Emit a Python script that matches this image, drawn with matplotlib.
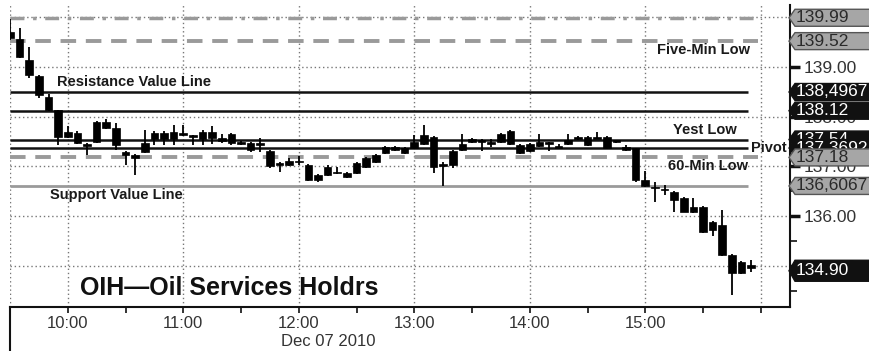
import matplotlib
matplotlib.use('Agg')
import matplotlib.pyplot as plt
import numpy as np
from matplotlib.patches import Polygon
from matplotlib.lines import Line2D

plt.rcParams['font.family'] = ['Liberation Sans', 'DejaVu Sans']

# ---------------- data ----------------
session_start_hour = 9.5      # 09:30
bar_minutes = 5

opens = [139.70, 139.56, 139.14, 138.82, 138.40, 138.13, 137.60, 137.67, 137.45, 137.50,
         137.90, 137.77, 137.29, 137.23, 137.29, 137.55, 137.68, 137.56, 137.66, 137.62,
         137.55, 137.70, 137.58, 137.65, 137.50, 137.47, 137.45, 137.30, 137.05, 137.03,
         137.08, 137.02, 136.72, 136.82, 136.88, 136.86, 136.86, 136.99, 137.09, 137.27,
         137.39, 137.37, 137.36, 137.46, 137.60, 137.00, 137.03, 137.33, 137.50, 137.50,
         137.50, 137.50, 137.72, 137.43, 137.30, 137.41, 137.47, 137.41, 137.46, 137.56,
         137.60, 137.58, 137.60, 137.50, 137.40, 137.36, 136.73, 136.56, 136.53, 136.49,
         136.36, 136.19, 136.19, 135.89, 135.82, 135.21, 135.08, 135.02]
highs = [139.97, 139.79, 139.41, 138.84, 138.45, 138.14, 137.81, 137.72, 137.47, 137.92,
         137.96, 137.87, 137.31, 137.25, 137.74, 137.72, 137.72, 137.84, 137.84, 137.64,
         137.73, 137.82, 137.66, 137.68, 137.52, 137.49, 137.57, 137.32, 137.08, 137.16,
         137.20, 137.05, 136.85, 137.03, 136.99, 136.88, 137.08, 137.18, 137.25, 137.42,
         137.42, 137.40, 137.63, 137.83, 137.62, 137.08, 137.32, 137.66, 137.58, 137.56,
         137.55, 137.68, 137.74, 137.45, 137.48, 137.66, 137.50, 137.45, 137.66, 137.62,
         137.62, 137.70, 137.62, 137.52, 137.43, 137.38, 136.90, 136.69, 136.62, 136.51,
         136.38, 136.36, 136.21, 135.91, 136.12, 135.23, 135.10, 135.12]
lows = [139.55, 139.18, 138.78, 138.38, 138.12, 137.43, 137.58, 137.45, 137.23, 137.48,
        137.76, 137.33, 137.03, 136.83, 137.27, 137.43, 137.43, 137.43, 137.62, 137.43,
        137.43, 137.45, 137.48, 137.43, 137.43, 137.29, 137.29, 136.97, 136.89, 137.00,
        137.02, 136.70, 136.68, 136.80, 136.84, 136.76, 136.84, 136.97, 137.07, 137.25,
        137.31, 137.25, 137.34, 137.44, 136.86, 136.60, 136.96, 137.31, 137.48, 137.31,
        137.40, 137.48, 137.44, 137.24, 137.28, 137.39, 137.30, 137.34, 137.44, 137.54,
        137.41, 137.56, 137.34, 137.48, 137.30, 136.69, 136.58, 136.29, 136.42, 136.09,
        136.08, 136.07, 135.66, 135.60, 135.19, 134.41, 134.83, 134.88]
closes = [139.58, 139.20, 138.84, 138.44, 138.13, 137.60, 137.70, 137.48, 137.42, 137.90,
          137.78, 137.43, 137.23, 137.17, 137.47, 137.68, 137.56, 137.70, 137.64, 137.60,
          137.70, 137.58, 137.52, 137.48, 137.45, 137.32, 137.43, 137.00, 137.03, 137.10,
          137.10, 136.72, 136.82, 136.98, 136.86, 136.79, 137.06, 137.16, 137.23, 137.40,
          137.33, 137.27, 137.50, 137.63, 136.99, 137.04, 137.30, 137.46, 137.56, 137.49,
          137.46, 137.66, 137.46, 137.26, 137.46, 137.50, 137.45, 137.36, 137.53, 137.60,
          137.43, 137.56, 137.36, 137.50, 137.33, 136.73, 136.60, 136.56, 136.52, 136.32,
          136.09, 136.09, 135.68, 135.72, 135.21, 134.85, 134.85, 134.95]

hour_ticks = [10, 11, 12, 13, 14, 15]
hour_labels = ['10:00', '11:00', '12:00', '13:00', '14:00', '15:00']
date_label = 'Dec 07 2010'
chart_title = 'OIH\u2014Oil Services Holdrs'

price_grid = [135, 136, 137, 138, 139, 140]

levels = [139.99, 139.52, 138.4967, 138.12, 137.54, 137.3692, 137.18, 136.6067]
level_texts = ['139.99', '139.52', '138,4967', '138.12', '137.54', '137.3692', '137.18', '136,6067']
level_names = ['', 'Five-Min Low', 'Resistance Value Line', '', 'Yest Low', 'Pivot',
               '60-Min Low', 'Support Value Line']
last_price = 134.90
last_text = '134.90'

# ---------------- figure ----------------
W, H = 869, 351
fig = plt.figure(figsize=(W / 100, H / 100), dpi=100)
fig.patch.set_facecolor('white')
ax_l, ax_b, ax_w, ax_h = 10, 44, 780, 302
ax = fig.add_axes([ax_l / W, ax_b / H, ax_w / W, ax_h / H])
px_per_hour = 115.5
ax.set_xlim(session_start_hour, session_start_hour + ax_w / px_per_hour)
ax.set_ylim(134.171, 140.247)
px_per_unit = 49.7

for s in ['top', 'left']:
    ax.spines[s].set_visible(False)
for s in ['bottom', 'right']:
    ax.spines[s].set_linewidth(1.5)
    ax.spines[s].set_color('#111111')

grid_kw = dict(color='#777777', lw=1.0, ls=(0, (1, 2)), zorder=1)
for p in price_grid:
    ax.axhline(p, **grid_kw)
for h in [session_start_hour] + hour_ticks + [16]:
    ax.axvline(h, **grid_kw)

# axes ticks
ax.yaxis.tick_right()
ax.set_yticks(price_grid)
ax.set_yticklabels(['%.2f' % p for p in price_grid])
ax.set_yticks([p + 0.5 for p in price_grid[:-1]] + [134.5], minor=True)
ax.tick_params(axis='y', which='major', length=7, width=2.5, pad=3,
               labelsize=12.5, labelcolor='#333333', color='#111111')
ax.tick_params(axis='y', which='minor', length=5, width=1.2, color='#111111')

half_hours = [session_start_hour + 0.5 * i for i in range(14)]
ax.set_xticks(half_hours)
ax.set_xticklabels([hour_labels[hour_ticks.index(int(h))] if h in hour_ticks else '' for h in half_hours])
ax.tick_params(axis='x', which='major', length=4, width=1.2, pad=2.5,
               labelsize=12, labelcolor='#333333', color='#111111')
ax.text(12.253, -34 / ax_h, date_label, transform=ax.get_xaxis_transform(),
        ha='center', va='center', fontsize=12, color='#333333')

fig.add_artist(Line2D([ax_l / W, ax_l / W], [0, ax_b / H], color='#111111', lw=1.5))

# ---------------- level lines ----------------
x_end_solid = session_start_hour + 738 / px_per_hour
x_end_dash = session_start_hour + 748 / px_per_hour
gray = '#9a9a9a'
ax.hlines(levels[0], session_start_hour, x_end_dash, color=gray, lw=2.5,
          linestyles=[(0, (4, 2.5, 1, 2.5))], zorder=2)
ax.hlines(levels[1], session_start_hour, x_end_dash, color=gray, lw=2.8,
          linestyles=[(0, (4, 2.5))], zorder=2)
for lv in levels[2:6]:
    ax.hlines(lv, session_start_hour, x_end_solid, color='#111111', lw=1.8, zorder=2)
ax.hlines(levels[6], session_start_hour, x_end_dash, color=gray, lw=2.8,
          linestyles=[(0, (4, 2.5))], zorder=2)
ax.hlines(levels[7], session_start_hour, x_end_solid, color=gray, lw=2.0, zorder=2)

# ---------------- candles ----------------
n = len(opens)
xs = session_start_hour + np.arange(n) * bar_minutes / 60.0
o = np.array(opens); c = np.array(closes)
ax.vlines(xs, lows, highs, color='black', lw=1.3, zorder=3)
bottoms = np.minimum(o, c)
heights = np.maximum(np.abs(c - o), 0.035)
ax.bar(xs, heights, bottom=bottoms, width=0.066, color='black', edgecolor='black',
       lw=0.5, zorder=4)

# ---------------- level names ----------------
name_kw = dict(fontsize=10.5, fontweight='bold', color='#1a1a1a', zorder=5)
def hx(px):
    return session_start_hour + (px - ax_l) / px_per_hour
ax.text(hx(750), levels[1] - 0.03, level_names[1], ha='right', va='top', **name_kw)
ax.text(hx(57), levels[2] + 0.06, level_names[2], ha='left', va='bottom', **name_kw)
ax.text(hx(737), levels[4] + 0.06, level_names[4], ha='right', va='bottom', **name_kw)
ax.text(hx(751), levels[5], level_names[5], ha='left', va='center', **name_kw)
ax.text(hx(748), levels[6] - 0.03, level_names[6], ha='right', va='top', **name_kw)
ax.text(hx(50), levels[7] - 0.05, level_names[7], ha='left', va='top', **name_kw)

ax.text(hx(80), 134.55, chart_title, ha='left', va='center', fontsize=18,
        fontweight='bold', color='#111111', zorder=5)

# ---------------- right-hand price boxes ----------------
ytr = ax.get_yaxis_transform()
def fx(px):
    return 1.0 + (px - (ax_l + ax_w)) / ax_w

styles = ['g', 'g', 'k', 'k', 'k', 'k', 'g', 'g']
box_rows = [(lv, txt, st, 8.5) for lv, txt, st in zip(levels, level_texts, styles)]
box_rows.append((last_price, last_text, 'k', 10.5))
z = 10
for lv, txt, st, hpx in box_rows:
    half_h = hpx / px_per_unit
    pts = [(fx(789), lv), (fx(795), lv + half_h), (fx(880), lv + half_h),
           (fx(880), lv - half_h), (fx(795), lv - half_h)]
    if st == 'k':
        fc, ec, tc = '#111111', '#111111', 'white'
    else:
        fc, ec, tc = '#a6a6a6', '#555555', '#2a2a2a'
    poly = Polygon(pts, closed=True, transform=ytr, facecolor=fc, edgecolor=ec,
                   lw=1.0, clip_on=False, zorder=z)
    ax.add_patch(poly)
    ax.text(fx(796), lv, txt, transform=ytr, ha='left', va='center', fontsize=12.5,
            color=tc, clip_on=False, zorder=z + 0.5)
    z += 1

fig.savefig('out.png', dpi=100)
